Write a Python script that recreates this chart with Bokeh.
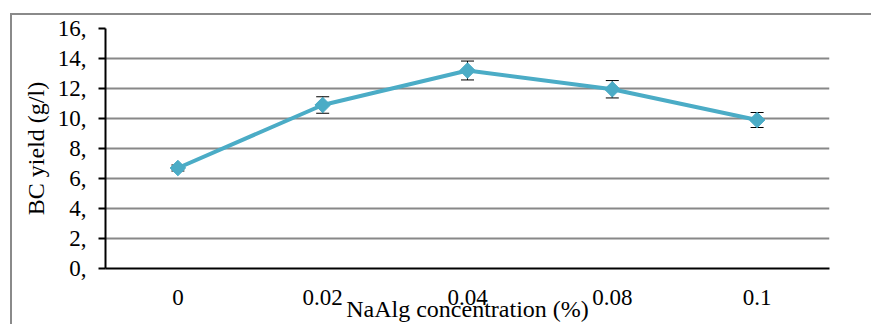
import numpy as np
from bokeh.plotting import figure
from bokeh.models import ColumnDataSource, Whisker, FactorRange, Range1d, FixedTicker, TeeHead
from bokeh.embed import file_html
from bokeh.resources import INLINE

categories = ["0", "0.02", "0.04", "0.08", "0.1"]
yield_vals = [6.7, 10.9, 13.2, 11.95, 9.9]
yield_err = [0.2, 0.55, 0.63, 0.58, 0.5]
y_ticks = [0, 2, 4, 6, 8, 10, 12, 14, 16]
y_tick_labels = ["0,", "2,", "4,", "6,", "8,", "10,", "12,", "14,", "16,"]

src = ColumnDataSource(dict(
    x=categories, y=yield_vals,
    lo=[v - e for v, e in zip(yield_vals, yield_err)],
    hi=[v + e for v, e in zip(yield_vals, yield_err)],
))

FONT = "Liberation Serif"
p = figure(width=871, height=324, x_range=FactorRange(*categories, range_padding=0),
           y_range=Range1d(0, 16), output_backend="svg", toolbar_location=None,
           min_border_left=105, min_border_right=42, min_border_top=28, min_border_bottom=47)
p.styles = {"background": "linear-gradient(#8a8a8a, #8a8a8a) 10px 13px / 2px calc(100% - 13px) no-repeat, "
                          "linear-gradient(#8a8a8a, #8a8a8a) 10px 13px / calc(100% - 10px) 2px no-repeat"}
p.outline_line_color = None
p.background_fill_color = "white"
p.border_fill_color = None

p.xgrid.grid_line_color = None
p.ygrid.grid_line_color = "#888888"
p.ygrid.grid_line_width = 2

p.yaxis.ticker = FixedTicker(ticks=y_ticks)
p.yaxis.major_label_overrides = {t: l for t, l in zip(y_ticks, y_tick_labels)}
p.yaxis.minor_tick_line_color = None
p.yaxis.major_tick_out = 7
p.yaxis.major_tick_in = 0
p.yaxis.major_tick_line_width = 2
p.yaxis.axis_line_width = 2
p.yaxis.axis_line_color = "black"
p.yaxis.major_tick_line_color = "black"
p.yaxis.major_label_text_font = FONT
p.yaxis.major_label_text_font_size = "23px"
p.yaxis.major_label_text_color = "black"
p.yaxis.major_label_standoff = 12
p.yaxis.axis_label = "BC yield (g/l)"
p.yaxis.axis_label_text_font = FONT
p.yaxis.axis_label_text_font_size = "24px"
p.yaxis.axis_label_text_font_style = "normal"
p.yaxis.axis_label_text_color = "black"
p.yaxis.axis_label_standoff = 6

p.xaxis.axis_line_width = 2
p.xaxis.axis_line_color = "black"
p.xaxis.major_tick_line_color = None
p.xaxis.minor_tick_line_color = None
p.xaxis.major_label_text_font = FONT
p.xaxis.major_label_text_font_size = "23px"
p.xaxis.major_label_text_color = "black"
p.xaxis.major_label_standoff = 15
p.xaxis.axis_label = "NaAlg concentration (%)"
p.xaxis.axis_label_text_font = FONT
p.xaxis.axis_label_text_font_size = "24px"
p.xaxis.axis_label_text_font_style = "normal"
p.xaxis.axis_label_text_color = "black"
p.xaxis.axis_label_standoff = -12

p.line("x", "y", source=src, line_color="#4BACC6", line_width=4)
p.scatter("x", "y", source=src, marker="square", angle=np.pi / 4, size=11,
          fill_color="#4BACC6", line_color="#4BACC6")
w = Whisker(base="x", upper="hi", lower="lo", source=src, line_color="black", line_width=1,
            upper_head=TeeHead(size=13, line_color="black", line_width=1),
            lower_head=TeeHead(size=13, line_color="black", line_width=1))
p.add_layout(w)

open("out.html", "w").write(file_html(p, INLINE))
